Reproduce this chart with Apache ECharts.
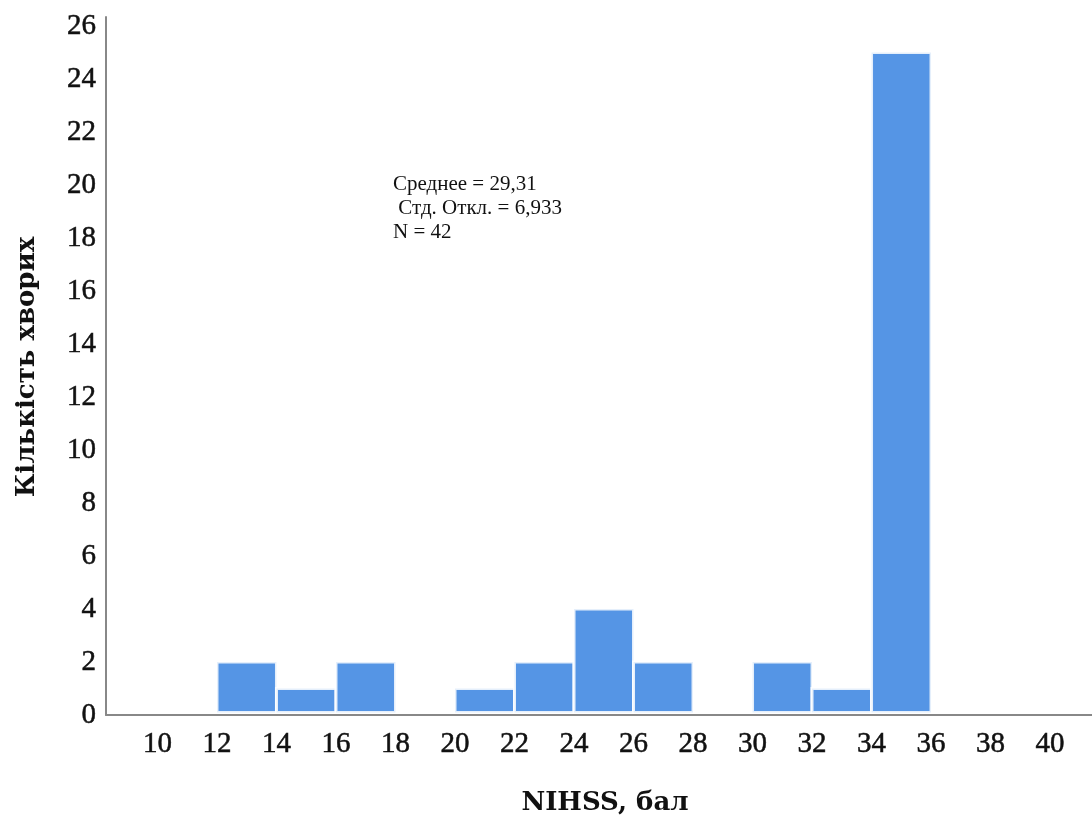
<!DOCTYPE html>
<html>
<head>
<meta charset="utf-8">
<script src="https://cdn.jsdelivr.net/npm/echarts@6/dist/echarts.min.js"></script>
<style>
  html, body { margin: 0; padding: 0; background: #fff; }
  #chart { width: 1092px; height: 816px; }
</style>
</head>
<body>
<div id="chart"></div>
<script>
// Histogram of NIHSS scores, bins of width 2
const binStarts = [12, 14, 16, 18, 20, 22, 24, 26, 28, 30, 32, 34];
const counts    = [2, 1, 2, 0, 1, 2, 4, 2, 0, 2, 1, 25];
const binWidth = 2;
const xTicks = [10, 12, 14, 16, 18, 20, 22, 24, 26, 28, 30, 32, 34, 36, 38, 40];
const yTicks = [0, 2, 4, 6, 8, 10, 12, 14, 16, 18, 20, 22, 24, 26];
const statsLines = ['Среднее = 29,31', ' Стд. Откл. = 6,933', 'N = 42'];

const serif = '"Liberation Serif", "DejaVu Serif", serif';
const titleFont = '"DejaVu Serif", "Liberation Serif", serif';
const barColor = '#5595e5';

const tickLabel = {
  color: '#111111',
  fontFamily: serif,
  fontSize: 29,
  textBorderColor: '#111111',
  textBorderWidth: 0.5
};

const chart = echarts.init(document.getElementById('chart'), null, { renderer: 'canvas' });

const option = {
  animation: false,
  backgroundColor: '#ffffff',
  grid: { left: 106, right: 0, top: 17, bottom: 101 },
  xAxis: {
    type: 'value',
    min: 8.27,
    max: 41.41,
    splitLine: { show: false },
    axisTick: { show: false },
    axisLine: { show: true, onZero: false, lineStyle: { color: '#888888', width: 2 } },
    axisLabel: Object.assign({ customValues: xTicks, margin: 15 }, tickLabel)
  },
  yAxis: {
    type: 'value',
    min: 0,
    max: 26.34,
    splitLine: { show: false },
    axisTick: { show: false },
    axisLine: { show: true, lineStyle: { color: '#888888', width: 2 } },
    axisLabel: Object.assign({ customValues: yTicks, margin: 10, padding: [6, 0, 0, 0] }, tickLabel)
  },
  series: [{
    type: 'custom',
    data: binStarts.map((s, i) => [s, s + binWidth, counts[i]]),
    renderItem: function (params, api) {
      const h = api.value(2);
      if (!h) return null;
      const p0 = api.coord([api.value(0), h]);
      const p1 = api.coord([api.value(1), 0]);
      return {
        type: 'rect',
        shape: { x: p0[0], y: p0[1], width: p1[0] - p0[0], height: p1[1] - p0[1] - 2.5 },
        style: { fill: barColor, stroke: 'rgba(255,255,255,0.85)', lineWidth: 3 }
      };
    },
    encode: { x: [0, 1], y: 2 }
  }],
  graphic: [
    {
      type: 'text',
      left: 393,
      top: 172,
      style: {
        text: statsLines.join('\n'),
        font: '21px ' + serif,
        lineHeight: 24,
        fill: '#111111'
      }
    },
    {
      type: 'text',
      x: 27,
      y: 367,
      rotation: Math.PI / 2,
      style: {
        text: 'Кількість хворих',
        font: 'bold 26px ' + titleFont,
        fill: '#111111',
        align: 'center',
        verticalAlign: 'middle'
      }
    },
    {
      type: 'text',
      x: 605,
      y: 803,
      style: {
        text: 'NIHSS, бал',
        font: 'bold 26px ' + titleFont,
        fill: '#111111',
        align: 'center',
        verticalAlign: 'middle'
      }
    }
  ]
};

chart.setOption(option);
</script>
</body>
</html>
